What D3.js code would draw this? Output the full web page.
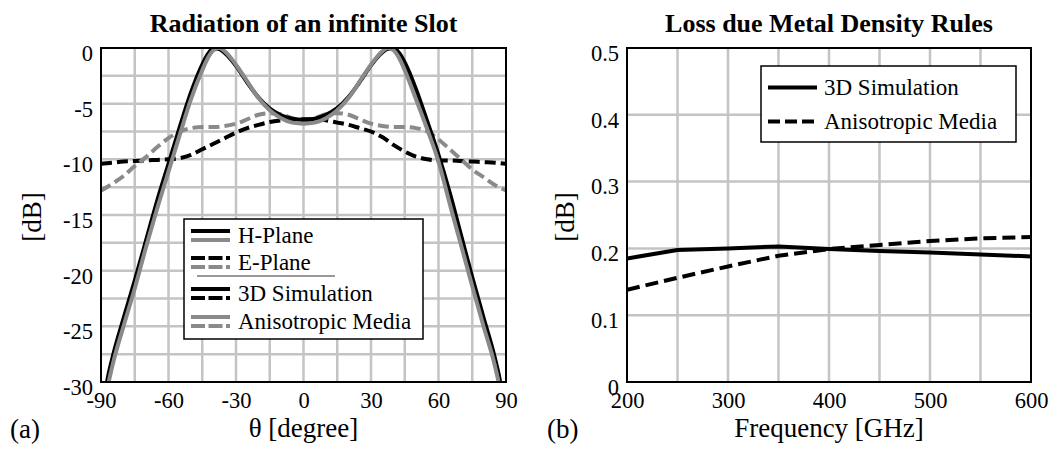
<!DOCTYPE html>
<html>
<head>
<meta charset="utf-8">
<script src="https://cdn.jsdelivr.net/npm/d3@7"></script>
<style>
  html, body { margin: 0; padding: 0; background: #fff; }
  svg { display: block; }
  svg text { font-family: "Liberation Serif", "Times New Roman", "Nimbus Roman", "DejaVu Serif", serif !important; fill: #000; }
</style>
</head>
<body>
<svg id="fig" width="1049" height="450"></svg>
<script>
// ---- (a) radiation pattern of an infinite slot ----
const hTheta = [-90,-87.5,-85,-80,-75,-70,-65,-60,-55,-50,-45,-42.5,-40,-37.5,-35,-30,-25,-20,-15,-10,-5,0,
                5,10,15,20,25,30,35,37.5,40,42.5,45,50,55,60,65,70,75,80,85,87.5,90];
const hPlane3D = [-34,-30.2,-27.9,-24.3,-20.9,-17.3,-13.7,-10.4,-7.1,-4.0,-1.5,-0.55,-0.05,-0.1,-0.45,-1.6,-3.1,-4.45,-5.45,-6.05,-6.35,-6.45,
                  -6.35,-6.0,-5.4,-4.4,-3.05,-1.55,-0.4,-0.08,-0.02,-0.45,-1.3,-3.7,-6.6,-9.6,-13.0,-16.8,-20.6,-24.2,-27.8,-30.1,-34];
const hPlaneAniso = [-35,-31,-28.6,-25.0,-21.6,-17.9,-14.4,-11.1,-7.8,-4.6,-2.0,-0.9,-0.2,0,-0.3,-1.5,-3.0,-4.5,-5.6,-6.3,-6.7,-6.8,
                     -6.7,-6.3,-5.6,-4.5,-3.0,-1.5,-0.3,0,-0.2,-0.9,-2.0,-4.6,-7.3,-10.2,-14.0,-17.7,-21.4,-25.0,-28.5,-30.9,-35];
const eTheta = [-90,-85,-80,-75,-70,-65,-60,-55,-50,-45,-40,-35,-30,-25,-20,-15,-10,-5,0,
                5,10,15,20,25,30,35,40,45,50,55,60,65,70,75,80,85,90];
const ePlane3D = [-10.4,-10.3,-10.2,-10.15,-10.1,-10.05,-10.0,-9.9,-9.6,-9.1,-8.6,-8.1,-7.6,-7.2,-6.9,-6.65,-6.5,-6.4,-6.4,
                  -6.4,-6.5,-6.7,-6.9,-7.2,-7.5,-8.0,-8.7,-9.3,-9.75,-10.0,-10.1,-10.1,-10.15,-10.2,-10.25,-10.3,-10.4];
const ePlaneAniso = [-12.8,-12.2,-11.5,-10.6,-9.8,-8.9,-8.1,-7.5,-7.2,-7.1,-7.1,-7.0,-6.8,-6.4,-6.0,-5.85,-5.95,-6.3,-6.6,
                     -6.3,-5.95,-5.85,-6.0,-6.4,-6.8,-7.0,-7.1,-7.1,-7.2,-7.5,-8.2,-9.1,-10.0,-10.9,-11.6,-12.3,-12.8];
const thetaTicks = [-90,-60,-30,0,30,60,90];
const dbTicksA = [0,-5,-10,-15,-20,-25,-30];

// ---- (b) loss due to metal density rules ----
const freqGHz = [200,250,300,350,400,450,500,550,600];
const loss3D = [0.185,0.1975,0.200,0.203,0.199,0.196,0.194,0.191,0.188];
const lossAniso = [0.138,0.156,0.173,0.189,0.199,0.205,0.211,0.215,0.217];
const freqTicks = [200,300,400,500,600];
const dbTicksB = [0,0.1,0.2,0.3,0.4,0.5];

const BLACK = "#000", GREY = "#8a8a8a", GRID = "#c4c4c4";
const svg = d3.select("#fig");
const plain = d => String(d);   // ASCII hyphen for negative numbers

function panel(o) {
  const g = svg.append("g");
  const x = d3.scaleLinear().domain(o.xDomain).range([o.left, o.right]);
  const y = d3.scaleLinear().domain(o.yDomain).range([o.bottom, o.top]);

  // grid
  g.append("g").selectAll("line").data(o.xGrid).join("line")
    .attr("x1", d => x(d)).attr("x2", d => x(d)).attr("y1", o.top).attr("y2", o.bottom)
    .attr("stroke", GRID).attr("stroke-width", 2.5);
  g.append("g").selectAll("line").data(o.yGrid).join("line")
    .attr("y1", d => y(d)).attr("y2", d => y(d)).attr("x1", o.left).attr("x2", o.right)
    .attr("stroke", GRID).attr("stroke-width", 2.5);

  // axes (labels only; frame drawn separately)
  const xa = g.append("g").attr("transform", `translate(0,${o.bottom})`)
    .call(d3.axisBottom(x).tickValues(o.xTicks).tickSize(0).tickPadding(10).tickFormat(o.xFmt));
  const ya = g.append("g").attr("transform", `translate(${o.left},0)`)
    .call(d3.axisLeft(y).tickValues(o.yTicks).tickSize(0).tickPadding(8).tickFormat(o.yFmt));
  [xa, ya].forEach(a => {
    a.select(".domain").remove();
    a.attr("font-family", null).attr("font-size", null);
    a.selectAll("text").attr("font-size", 22.5);
  });
  ya.selectAll("text").attr("dy", "0.55em");

  // clip for curves
  const cid = "clip" + o.id;
  svg.append("clipPath").attr("id", cid).append("rect")
    .attr("x", o.left).attr("y", o.top).attr("width", o.right - o.left).attr("height", o.bottom - o.top);
  const curves = g.append("g").attr("clip-path", `url(#${cid})`);
  o.series.forEach(s => {
    const line = d3.line().x((d, i) => x(s.x[i])).y(d => y(d)).curve(o.curve);
    curves.append("path").datum(s.y).attr("d", line)
      .attr("fill", "none").attr("stroke", s.color).attr("stroke-width", 4)
      .attr("stroke-dasharray", s.dash || null).attr("stroke-linejoin", "round");
  });

  // frame
  g.append("rect").attr("x", o.left).attr("y", o.top)
    .attr("width", o.right - o.left).attr("height", o.bottom - o.top)
    .attr("fill", "none").attr("stroke", "#000").attr("stroke-width", 2);

  // titles
  g.append("text").attr("x", (o.left + o.right) / 2).attr("y", 32).attr("text-anchor", "middle")
    .attr("font-size", 26).attr("font-weight", "bold").text(o.title);
  g.append("text").attr("x", (o.left + o.right) / 2).attr("y", 437).attr("text-anchor", "middle")
    .attr("font-size", 27).text(o.xLabel);
  g.append("text").attr("transform", `translate(${o.yLabelX},217) rotate(-90)`)
    .attr("text-anchor", "middle").attr("dominant-baseline", "central")
    .attr("font-size", 27).text("[dB]");
  g.append("text").attr("x", o.tagX).attr("y", 438).attr("font-size", 27).text(o.tag);
  return { g, x, y };
}

panel({
  id: "a", left: 101, right: 506, top: 48, bottom: 382,
  xDomain: [-90, 90], yDomain: [-30, 0],
  xGrid: d3.range(-75, 90, 15), yGrid: d3.range(-27.5, 0, 2.5),
  xTicks: thetaTicks, yTicks: dbTicksA, xFmt: plain, yFmt: plain,
  curve: d3.curveMonotoneX,
  series: [
    { x: eTheta, y: ePlane3D, color: BLACK, dash: "11,5" },
    { x: eTheta, y: ePlaneAniso, color: GREY, dash: "11,5" },
    { x: hTheta, y: hPlane3D, color: BLACK },
    { x: hTheta, y: hPlaneAniso, color: GREY }
  ],
  title: "Radiation of an infinite Slot", xLabel: "θ [degree]", yLabelX: 32, tag: "(a)", tagX: 10
});

panel({
  id: "b", left: 627, right: 1031, top: 48, bottom: 382,
  xDomain: [200, 600], yDomain: [0, 0.5],
  xGrid: d3.range(250, 600, 50), yGrid: [0.1, 0.2, 0.3, 0.4],
  xTicks: freqTicks, yTicks: dbTicksB, xFmt: plain, yFmt: d => d === 0 ? "0" : d3.format(".1f")(d),
  curve: d3.curveLinear,
  series: [
    { x: freqGHz, y: loss3D, color: BLACK },
    { x: freqGHz, y: lossAniso, color: BLACK, dash: "13,6" }
  ],
  title: "Loss due Metal Density Rules", xLabel: "Frequency [GHz]", yLabelX: 565, tag: "(b)", tagX: 547
});

// ---- legend (a) ----
const legA = svg.append("g");
legA.append("rect").attr("x", 184).attr("y", 219).attr("width", 239).attr("height", 120)
  .attr("fill", "#fff").attr("stroke", "#000").attr("stroke-width", 1.5);
const legRowsA = [
  { label: "H-Plane", lines: [{ c: BLACK }, { c: GREY }], y: 235.5 },
  { label: "E-Plane", lines: [{ c: BLACK, d: "14,3.5" }, { c: GREY, d: "14,3.5" }], y: 262.5 },
  { label: "3D Simulation", lines: [{ c: BLACK }, { c: BLACK, d: "14,3.5" }], y: 293.5 },
  { label: "Anisotropic Media", lines: [{ c: GREY }, { c: GREY, d: "14,3.5" }], y: 321.5 }
];
legRowsA.forEach(r => {
  r.lines.forEach((l, i) => {
    legA.append("line").attr("x1", 191).attr("x2", 230)
      .attr("y1", r.y - 4.5 + i * 9).attr("y2", r.y - 4.5 + i * 9)
      .attr("stroke", l.c).attr("stroke-width", 4).attr("stroke-dasharray", l.d || null);
  });
  legA.append("text").attr("x", 238).attr("y", r.y).attr("dominant-baseline", "central")
    .attr("font-size", 23).text(r.label);
});
legA.append("line").attr("x1", 197).attr("x2", 335).attr("y1", 276).attr("y2", 276)
  .attr("stroke", "#333").attr("stroke-width", 1);

// ---- legend (b) ----
const legB = svg.append("g");
legB.append("rect").attr("x", 761).attr("y", 66).attr("width", 255).attr("height", 76)
  .attr("fill", "#fff").attr("stroke", "#000").attr("stroke-width", 1.5);
[{ label: "3D Simulation", y: 87.5 }, { label: "Anisotropic Media", y: 121.5, d: "12,5" }].forEach(r => {
  legB.append("line").attr("x1", 768).attr("x2", 817).attr("y1", r.y).attr("y2", r.y)
    .attr("stroke", BLACK).attr("stroke-width", 4).attr("stroke-dasharray", r.d || null);
  legB.append("text").attr("x", 824).attr("y", r.y).attr("dominant-baseline", "central")
    .attr("font-size", 23).text(r.label);
});
</script>
</body>
</html>
